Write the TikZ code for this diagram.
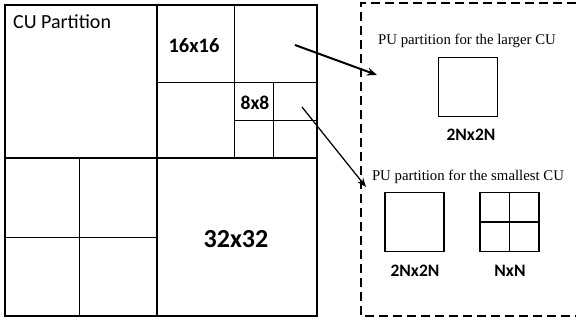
\documentclass[tikz,border=0pt]{standalone}
\usepackage{fontspec}
\setmainfont{Liberation Serif}
\setsansfont{Carlito}
\usetikzlibrary{arrows.meta}

\begin{document}
\begin{tikzpicture}[x=1pt,y=-1pt,
  thin line/.style={line width=0.8pt},
  mid line/.style={line width=1.4pt},
  thick line/.style={line width=2pt},
  size label/.style={font=\sffamily\bfseries\fontsize{#1}{#1}\selectfont,inner sep=0pt,anchor=base},
  pu caption/.style={font=\fontsize{14.8}{16}\selectfont,inner sep=0pt,anchor=base},
  pu box/.style={draw,line width=1.1pt,minimum size=59pt,inner sep=0pt}]
  \useasboundingbox (0,0) rectangle (576,324);
  % CU quadtree
  \draw[thin line] (234,5) -- (234,158) (157,82) -- (317,82);
  \draw[thin line] (273,82) -- (273,158) (234,120) -- (317,120);
  \draw[thin line] (79,158) -- (79,316) (5,237) -- (157,237);
  \draw[mid line] (157,5) -- (157,316) (5,158) -- (317,158);
  \draw[thick line] (5,5) rectangle (317,316);
  \node[font=\sffamily\fontsize{20}{24}\selectfont,inner sep=0pt,anchor=base west] (cutitle) at (13,28) {CU Partition};
  \node[size label=20.5] (lab16) at (194,52) {16x16};
  \node[size label=19.5] (lab8) at (255,109) {8x8};
  \node[size label=26] (lab32) at (236,247) {32x32};
  % PU side
  \draw[line width=1.2pt,dash pattern=on 9pt off 5pt] (590,3) -- (361,3) -- (361,316) -- (590,316);
  \node[pu caption] (capl) at (467,44) {PU partition for the larger CU};
  \node[pu box] (pul) at (468,87) {};
  \node[size label=17.5] (labl) at (471,140) {2Nx2N};
  \node[pu caption] (caps) at (468,180) {PU partition for the smallest CU};
  \node[pu box] (pus) at (414.5,222) {};
  \node[pu box] (pun) at (509.5,222) {};
  \draw[line width=1.1pt] (pun.north) -- (pun.south) (pun.west) -- (pun.east);
  \node[size label=17.5] (labs) at (415,276) {2Nx2N};
  \node[size label=17.5] (labn) at (510,276) {NxN};
  % arrows
  \coordinate (from16) at (295,45);
  \coordinate (from8) at (302,107);
  \coordinate (tol) at (377,75);
  \coordinate (tos) at (366,187);
  \draw[-{Stealth[length=10pt,width=8pt]},line width=2pt] (from16) -- (tol);
  \draw[-{Stealth[length=9pt,width=7pt]},line width=1.2pt] (from8) -- (tos);
\end{tikzpicture}
\end{document}
